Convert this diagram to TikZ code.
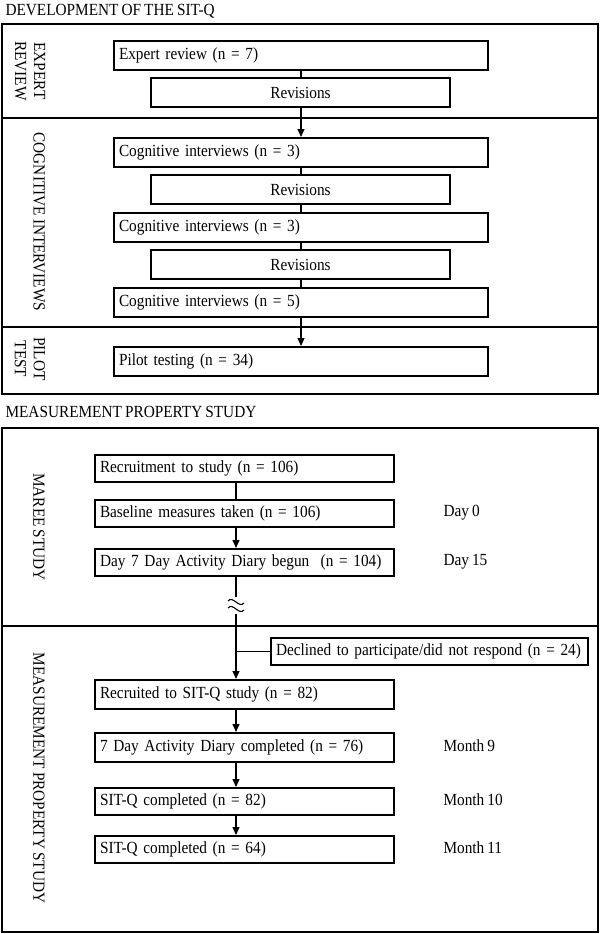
\documentclass[tikz,border=0pt]{standalone}
\usepackage{fontspec}
\setmainfont[FakeStretch=0.9, WordSpace=0.8]{Liberation Serif}
\usetikzlibrary{arrows.meta}

\begin{document}
\begin{tikzpicture}[x=1pt, y=-1pt, font=\fontsize{17}{19}\selectfont,
    box/.style={draw, line width=2pt, minimum height=29pt, inner xsep=5pt, inner ysep=0pt,
                text width=#1, align=left, anchor=north west},
    sbox/.style={box=#1, minimum height=27pt},
    frame/.style={line width=1.8pt},
    conn/.style={line width=1.1pt},
    arr/.style={conn, -{Triangle[length=8pt, width=7pt]}}]
    \useasboundingbox (0,0) rectangle (600,934);

    % Development of the SIT-Q
    \node[anchor=west] (title1) at (2,11) {DEVELOPMENT OF THE SIT-Q};
    \draw[frame] (2,24) rectangle (598,394);
    \draw[frame] (2,118) -- (598,118);
    \draw[frame] (2,327) -- (598,327);

    \node[rotate=-90, align=center] (lexpert) at (30,71) {EXPERT\\REVIEW};
    \node[rotate=-90] (lcog) at (39,222) {COGNITIVE INTERVIEWS};
    \node[rotate=-90, align=center] (lpilot) at (30,359) {PILOT\\TEST};

    \node[box=364pt] (expert) at (113,40) {Expert review (n = 7)};
    \node[box=289pt, align=center] (rev1) at (150,77) {Revisions};
    \node[box=364pt] (cog1) at (113,137) {Cognitive interviews (n = 3)};
    \node[box=289pt, align=center] (rev2) at (150,174) {Revisions};
    \node[box=364pt] (cog2) at (113,212) {Cognitive interviews (n = 3)};
    \node[box=289pt, align=center] (rev3) at (150,249) {Revisions};
    \node[box=364pt] (cog3) at (113,287) {Cognitive interviews (n = 5)};
    \node[box=364pt] (pilot) at (113,346) {Pilot testing (n = 34)};

    \draw[conn] (expert.south) -- (expert.south |- rev1.north);
    \draw[arr] (expert.south |- rev1.south) -- (cog1.north);
    \draw[conn] (cog1.south) -- (cog1.south |- rev2.north);
    \draw[conn] (cog1.south |- rev2.south) -- (cog2.north);
    \draw[conn] (cog2.south) -- (cog2.south |- rev3.north);
    \draw[conn] (cog2.south |- rev3.south) -- (cog3.north);
    \draw[arr] (cog3.south) -- (pilot.north);

    % Measurement property study
    \node[anchor=west] (title2) at (2,412) {MEASUREMENT PROPERTY STUDY};
    \draw[frame] (2,428) rectangle (598,932);
    \draw[frame] (2,626) -- (598,626);

    \node[rotate=-90] (lmaree) at (39,527) {MAREE STUDY};
    \node[rotate=-90] (lmeas) at (39,778) {MEASUREMENT PROPERTY STUDY};

    \node[sbox=289pt] (recruit) at (94,454) {Recruitment to study (n = 106)};
    \node[sbox=289pt] (baseline) at (94,499) {Baseline measures taken (n = 106)};
    \node[sbox=289pt] (diary) at (94,548) {Day 7 Day Activity Diary begun~ (n = 104)};
    \node[box=289pt] (recruited) at (94,679) {Recruited to SIT-Q study (n = 82)};
    \node[box=289pt] (actdiary) at (94,732) {7 Day Activity Diary completed (n = 76)};
    \node[sbox=289pt] (sitq1) at (94,787) {SIT-Q completed (n = 82)};
    \node[sbox=289pt] (sitq2) at (94,835) {SIT-Q completed (n = 64)};
    \node[sbox=307pt] (declined) at (270,637) {Declined to participate/did not respond (n = 24)};

    \node[anchor=west] (day0) at (440,513) {Day 0};
    \node[anchor=west] (day15) at (440,562) {Day 15};
    \node[anchor=west] (month9) at (440,746) {Month 9};
    \node[anchor=west] (month10) at (440,800) {Month 10};
    \node[anchor=west] (month11) at (440,848) {Month 11};

    % Timeline
    \coordinate (spine) at (236,0);
    \coordinate (cut1) at (236,597);
    \coordinate (cut2) at (236,614);
    \draw[conn] (recruit.south -| spine) -- (baseline.north -| spine);
    \draw[arr] (baseline.south -| spine) -- (diary.north -| spine);
    \draw[conn] (diary.south -| spine) -- (cut1);
    \draw[conn] (228,601) .. controls (233,595) and (239,609) .. (244,603);
    \draw[conn] (228,608) .. controls (233,602) and (239,616) .. (244,610);
    \draw[arr] (cut2) -- (recruited.north -| spine);
    \draw[conn] (declined.west) -- (declined.west -| spine);
    \draw[arr] (recruited.south -| spine) -- (actdiary.north -| spine);
    \draw[arr] (actdiary.south -| spine) -- (sitq1.north -| spine);
    \draw[arr] (sitq1.south -| spine) -- (sitq2.north -| spine);
\end{tikzpicture}
\end{document}
